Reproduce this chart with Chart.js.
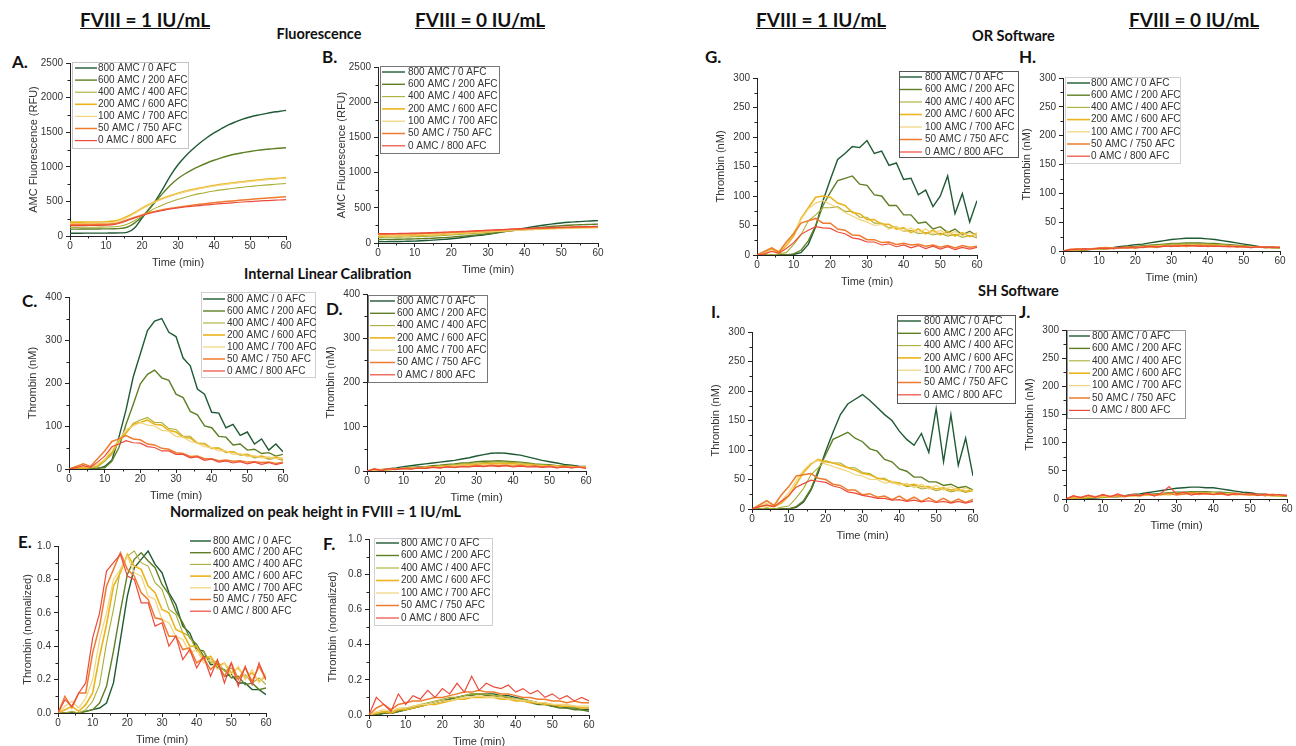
<!DOCTYPE html>
<html>
<head>
<meta charset="utf-8">
<script src="https://cdn.jsdelivr.net/npm/chart.js@4"></script>
<style>
  body { margin: 0; background: #fff; width: 1296px; height: 746px; position: relative; overflow: hidden; }
  canvas { position: absolute; }
  .txt { position: absolute; font-family: Lato, "Open Sans", sans-serif; font-weight: bold; color: #111; line-height: 1; white-space: nowrap; }
  .hdr { font-size: 19px; text-decoration: underline; width: 200px; text-align: center; }
  .sub { font-size: 14.5px; }
  .lab { font-size: 17px; }
</style>
</head>
<body>
<div class="txt hdr" style="left:45px;top:10px">FVIII = 1 IU/mL</div>
<div class="txt hdr" style="left:380px;top:10px">FVIII = 0 IU/mL</div>
<div class="txt hdr" style="left:721px;top:10px">FVIII = 1 IU/mL</div>
<div class="txt hdr" style="left:1094px;top:10px">FVIII = 0 IU/mL</div>
<div class="txt sub" style="left:219px;top:27px;width:200px;text-align:center">Fluorescence</div>
<div class="txt sub" style="left:972px;top:29px">OR Software</div>
<div class="txt sub" style="left:244px;top:267px">Internal Linear Calibration</div>
<div class="txt sub" style="left:978px;top:284px">SH Software</div>
<div class="txt sub" style="left:170px;top:505px">Normalized on peak height in FVIII = 1 IU/mL</div>
<div class="txt lab" style="left:12px;top:53px">A.</div>
<div class="txt lab" style="left:322px;top:48px">B.</div>
<div class="txt lab" style="left:22px;top:292px">C.</div>
<div class="txt lab" style="left:326px;top:300px">D.</div>
<div class="txt lab" style="left:18px;top:533px">E.</div>
<div class="txt lab" style="left:323px;top:535px">F.</div>
<div class="txt lab" style="left:705px;top:48px">G.</div>
<div class="txt lab" style="left:1019px;top:48px">H.</div>
<div class="txt lab" style="left:711px;top:303px">I.</div>
<div class="txt lab" style="left:1019px;top:303px">J.</div>
<script>
// time axis shared by every panel (min)
const timeMin = [0,2,4,6,8,10,12,14,16,18,20,22,24,26,28,30,32,34,36,38,40,42,44,46,48,50,52,54,56,58,60];
const seriesLabels = ['800 AMC / 0 AFC','600 AMC / 200 AFC','400 AMC / 400 AFC','200 AMC / 600 AFC','100 AMC / 700 AFC','50 AMC / 750 AFC','0 AMC / 800 AFC'];
const seriesColors = ['#1f5a35','#5f7f24','#a9ae34','#ebb41c','#f2d47a','#ee7b2e','#ec4b3c'];
const seriesWidths = [1.4,1.4,1.1,1.6,1.2,1.5,1.2];

// A. fluorescence, FVIII 1 IU/mL (RFU)
const A_800 = [40,40,41,41,42,42,43,45,55,120,260,390,530,700,880,1030,1150,1250,1340,1420,1490,1550,1605,1650,1690,1720,1745,1765,1785,1800,1815];
const A_600 = [100,100,101,101,102,103,104,110,130,190,280,390,510,630,740,830,900,960,1010,1055,1095,1130,1160,1185,1205,1222,1237,1249,1259,1268,1276];
const A_400 = [125,125,126,127,128,130,133,145,175,225,290,355,410,455,495,530,560,588,612,632,650,666,680,693,705,716,726,735,743,751,758];
const A_200 = [200,200,201,202,203,205,215,240,285,340,400,455,505,548,585,618,646,670,692,712,730,746,760,773,785,797,808,818,827,835,843];
const A_100 = [180,180,181,182,184,187,198,225,272,330,392,448,498,540,577,610,638,662,684,704,722,738,752,765,777,789,800,810,819,827,834];
const A_50 = [165,165,166,167,168,170,178,200,235,270,305,335,360,382,400,416,431,445,458,470,481,492,502,511,520,529,537,545,553,560,567];
const A_0 = [150,150,151,152,153,156,165,188,225,262,296,325,350,371,390,406,419,430,440,450,459,468,476,484,491,498,504,510,515,520,525];

// B. fluorescence, FVIII 0 IU/mL (RFU)
const B_800 = [20,20,21,22,24,27,32,38,45,52,60,72,85,98,110,122,140,158,176,194,210,228,245,260,273,285,294,301,307,313,318];
const B_600 = [50,51,52,54,56,59,62,66,71,77,84,92,101,111,121,132,145,158,171,184,196,208,219,229,238,246,252,257,261,265,268];
const B_400 = [80,81,82,84,86,89,92,96,101,107,113,120,127,135,143,151,159,167,175,182,189,196,202,208,213,218,222,226,229,232,235];
const B_200 = [100,101,102,104,106,109,112,116,120,125,130,136,142,148,154,160,166,172,178,184,189,194,199,203,207,211,214,217,220,222,224];
const B_100 = [110,111,112,114,116,118,121,124,128,132,137,142,147,152,157,162,167,172,177,182,186,190,194,198,201,204,207,210,212,214,216];
const B_50 = [125,126,127,129,131,133,136,139,143,147,151,155,160,165,170,175,180,185,190,195,199,203,207,211,214,217,220,223,225,227,229];
const B_0 = [132,133,134,136,138,140,143,146,150,154,158,162,167,172,177,182,187,192,197,202,206,210,214,218,221,224,227,230,232,234,236];

// C. internal linear calibration, FVIII 1 IU/mL (nM)
const C_800 = [0,2,0,3,1,6,20,74,138,214,268,322,344,350,318,308,258,240,186,174,132,130,96,104,78,86,58,70,44,58,40];
const C_600 = [0,0,2,0,2,3,18,50,104,150,198,220,230,212,206,174,166,134,126,100,96,76,74,56,58,44,46,36,38,30,34];
const C_400 = [0,2,0,3,5,18,34,64,84,106,114,120,108,108,94,92,76,76,60,60,48,49,38,40,32,33,26,29,22,25,20];
const C_200 = [0,3,2,4,7,22,38,66,84,104,108,114,104,102,90,86,74,72,60,58,48,48,40,40,33,34,28,30,25,28,23];
const C_100 = [0,4,8,3,12,22,48,68,92,100,108,102,100,90,88,76,74,64,60,52,50,42,42,34,36,29,31,26,28,24,26];
const C_50 = [0,6,12,6,24,42,64,70,78,70,68,58,56,48,46,38,36,29,30,24,24,19,21,18,19,16,17,15,16,13,16];
const C_0 = [0,3,8,4,16,30,52,58,66,61,60,52,50,42,42,34,34,26,28,20,23,16,19,14,17,12,16,11,15,10,14];

// D. internal linear calibration, FVIII 0 IU/mL (nM)
const D_800 = [0,1,3,5,7,10,12,14,16,18,20,22,24,27,30,34,37,40,41,40,38,36,32,28,24,21,18,15,13,11,10];
const D_600 = [0,1,2,3,5,6,8,9,10,12,13,15,16,18,19,21,22,22,23,22,21,20,18,16,15,14,12,12,11,10,9];
const D_400 = [0,1,2,3,4,5,7,8,9,10,12,13,14,16,17,18,19,20,20,20,19,18,17,15,14,13,12,11,10,10,9];
const D_200 = [0,2,3,3,4,5,6,7,8,9,10,11,12,13,14,15,16,16,17,16,16,15,14,13,12,12,11,10,10,9,9];
const D_100 = [0,3,2,3,4,5,6,7,8,8,9,10,11,12,13,13,14,14,15,14,14,13,13,12,11,11,10,10,9,9,8];
const D_50 = [0,5,2,5,4,6,5,7,6,9,7,10,8,11,10,13,11,13,12,13,11,13,10,12,9,11,8,10,8,9,7];
const D_0 = [0,4,1,5,3,6,4,7,6,8,7,9,8,10,9,11,10,12,10,12,9,11,9,10,8,10,7,9,7,9,6];

// E. normalized, FVIII 1 IU/mL
const E_800 = [0,0,0,0,0.01,0.02,0.03,0.06,0.18,0.44,0.70,0.87,0.92,0.97,0.89,0.84,0.72,0.65,0.52,0.48,0.38,0.37,0.29,0.29,0.22,0.23,0.18,0.18,0.14,0.14,0.11];
const E_600 = [0,0,0,0,0.01,0.02,0.06,0.16,0.37,0.61,0.83,0.92,0.96,0.91,0.87,0.77,0.71,0.61,0.54,0.45,0.41,0.34,0.32,0.27,0.26,0.21,0.22,0.17,0.18,0.14,0.15];
const E_400 = [0,0,0.01,0,0.02,0.07,0.17,0.42,0.62,0.86,0.94,0.97,0.90,0.88,0.78,0.74,0.62,0.59,0.48,0.46,0.37,0.37,0.30,0.31,0.25,0.27,0.21,0.23,0.18,0.21,0.17];
const E_200 = [0,0.02,0.04,0.01,0.05,0.12,0.34,0.53,0.76,0.84,0.95,0.88,0.86,0.76,0.72,0.62,0.60,0.50,0.48,0.40,0.40,0.32,0.34,0.28,0.30,0.24,0.27,0.21,0.24,0.19,0.22];
const E_100 = [0,0.04,0.07,0.03,0.09,0.20,0.44,0.60,0.80,0.86,0.94,0.84,0.82,0.70,0.68,0.56,0.54,0.46,0.44,0.36,0.38,0.30,0.32,0.26,0.30,0.22,0.28,0.20,0.26,0.18,0.24];
const E_50 = [0,0.10,0.03,0.12,0.12,0.36,0.52,0.76,0.86,0.96,0.86,0.82,0.72,0.68,0.57,0.56,0.46,0.46,0.38,0.39,0.30,0.33,0.26,0.30,0.22,0.30,0.20,0.27,0.19,0.28,0.20];
const E_0 = [0,0.08,0.04,0.12,0.18,0.45,0.60,0.85,0.90,0.95,0.82,0.80,0.66,0.66,0.52,0.54,0.40,0.46,0.32,0.38,0.27,0.34,0.22,0.32,0.18,0.30,0.16,0.28,0.17,0.30,0.20];

// F. normalized, FVIII 0 IU/mL
const F_800 = [0,0,0.01,0.01,0.02,0.03,0.04,0.05,0.06,0.07,0.08,0.09,0.10,0.11,0.12,0.12,0.12,0.12,0.11,0.11,0.10,0.09,0.08,0.07,0.06,0.05,0.05,0.04,0.04,0.03,0.03];
const F_600 = [0,0,0.01,0.01,0.02,0.03,0.04,0.05,0.06,0.07,0.08,0.09,0.10,0.11,0.11,0.12,0.11,0.11,0.10,0.10,0.09,0.08,0.07,0.06,0.06,0.05,0.04,0.04,0.03,0.03,0.02];
const F_400 = [0,0.01,0.02,0.02,0.03,0.04,0.05,0.06,0.07,0.08,0.09,0.10,0.10,0.11,0.12,0.12,0.12,0.11,0.11,0.10,0.09,0.09,0.08,0.07,0.07,0.06,0.05,0.05,0.04,0.04,0.04];
const F_200 = [0,0.01,0.02,0.01,0.03,0.03,0.04,0.05,0.06,0.06,0.07,0.08,0.09,0.09,0.10,0.10,0.10,0.10,0.09,0.09,0.08,0.08,0.07,0.07,0.06,0.06,0.05,0.05,0.05,0.04,0.04];
const F_100 = [0,0.02,0.03,0.02,0.04,0.04,0.05,0.06,0.06,0.07,0.08,0.08,0.09,0.10,0.10,0.11,0.10,0.10,0.10,0.09,0.09,0.08,0.08,0.07,0.07,0.06,0.06,0.06,0.05,0.05,0.05];
const F_50 = [0,0.04,0.06,0.03,0.06,0.07,0.08,0.08,0.09,0.10,0.10,0.11,0.12,0.13,0.13,0.14,0.13,0.13,0.12,0.12,0.11,0.10,0.10,0.09,0.09,0.08,0.08,0.07,0.08,0.07,0.07];
const F_0 = [0,0.10,0.06,0.02,0.12,0.06,0.11,0.09,0.14,0.10,0.15,0.12,0.18,0.13,0.22,0.14,0.18,0.16,0.15,0.17,0.13,0.15,0.12,0.14,0.10,0.12,0.09,0.11,0.08,0.10,0.08];

// G. OR software, FVIII 1 IU/mL (nM)
const G_800 = [0,0,0,0,0,1,4,18,48,92,128,162,172,184,182,194,172,176,152,156,128,130,102,110,82,100,134,70,104,56,92];
const G_600 = [0,0,0,0,0,2,8,24,50,84,106,126,130,134,120,118,102,100,84,84,68,68,54,56,44,48,38,44,34,40,32];
const G_400 = [0,2,0,2,4,18,34,58,68,80,80,82,74,74,64,64,54,54,46,48,40,42,36,38,34,37,32,35,30,33,29];
const G_200 = [0,4,10,3,16,32,62,80,98,100,98,88,84,72,70,60,60,52,52,44,46,38,44,36,42,34,40,32,38,31,37];
const G_100 = [0,4,12,6,18,38,60,78,88,92,86,80,72,66,60,56,50,52,44,48,40,46,38,44,36,42,34,40,33,38,32];
const G_50 = [0,6,12,5,22,36,54,58,62,54,54,44,42,34,33,26,26,21,22,18,20,17,18,15,17,13,16,12,16,13,15];
const G_0 = [0,2,6,3,11,21,35,42,48,46,45,39,36,29,27,22,22,17,19,14,17,12,16,11,15,10,14,9,13,10,13];

// H. OR software, FVIII 0 IU/mL (nM)
const H_800 = [0,0,1,2,3,4,5,6,8,9,11,12,14,16,18,20,21,22,22,22,21,20,18,16,14,12,10,8,7,6,5];
const H_600 = [0,1,1,2,3,3,4,5,6,7,8,9,10,11,12,13,13,14,14,14,13,13,12,11,10,9,8,7,6,6,5];
const H_400 = [0,1,2,2,3,3,4,5,5,6,7,8,9,10,11,12,12,12,12,12,12,11,11,10,9,8,8,7,6,6,5];
const H_200 = [0,2,2,3,3,4,4,5,5,6,6,7,8,8,9,9,10,10,10,10,10,10,9,9,8,8,7,7,6,6,6];
const H_100 = [0,2,3,3,4,4,5,5,5,6,6,7,7,8,8,9,9,9,10,9,9,9,9,8,8,7,7,7,6,6,6];
const H_50 = [0,3,4,2,4,5,6,4,6,7,5,7,8,6,9,8,10,8,9,10,8,9,8,9,7,8,6,8,7,6,7];
const H_0 = [0,2,3,4,3,5,4,5,6,5,7,6,8,7,8,9,8,10,9,8,9,8,8,7,8,7,6,7,6,7,6];

// I. SH software, FVIII 1 IU/mL (nM)
const I_800 = [0,0,0,0,0,0,3,12,32,62,98,130,160,178,186,194,184,172,160,150,132,118,108,128,96,170,80,160,74,120,56];
const I_600 = [0,0,0,0,0,0,4,14,34,66,92,118,124,130,120,114,102,98,84,80,68,64,54,54,46,46,40,42,36,38,32];
const I_400 = [0,0,2,0,3,5,19,35,58,70,82,78,78,70,70,62,60,52,52,44,44,38,40,34,36,31,34,29,32,28,31];
const I_200 = [0,4,6,4,10,22,42,62,76,84,80,78,74,70,66,60,58,52,50,46,44,40,42,38,38,34,36,32,34,30,32];
const I_100 = [0,6,10,6,14,28,48,66,78,82,76,72,68,64,58,56,50,50,44,46,40,44,36,42,34,40,32,38,30,36,30];
const I_50 = [0,7,14,6,24,38,56,58,60,52,50,42,40,32,32,24,26,20,22,16,22,14,20,13,19,12,18,11,17,11,16];
const I_0 = [0,4,7,4,13,23,37,43,49,47,45,39,36,29,27,23,21,18,18,15,16,13,15,12,14,11,13,10,13,10,13];

// J. SH software, FVIII 0 IU/mL (nM)
const J_800 = [0,0,1,1,2,3,4,5,6,8,9,11,13,15,17,19,20,21,21,20,20,18,16,14,12,11,9,8,7,6,5];
const J_600 = [0,1,1,2,2,3,4,4,5,6,7,8,9,10,11,12,12,13,13,13,12,12,11,10,9,8,8,7,6,6,5];
const J_400 = [0,1,2,2,3,3,4,5,5,6,7,8,8,9,10,11,11,12,12,12,11,11,10,10,9,8,8,7,7,6,6];
const J_200 = [0,2,2,3,3,4,4,5,5,6,6,7,7,8,8,9,9,10,10,10,10,9,9,8,8,8,7,7,6,6,6];
const J_100 = [0,4,2,5,3,6,3,7,4,6,5,8,6,9,7,10,8,9,10,8,11,8,9,7,9,7,8,6,9,6,7];
const J_50 = [0,5,3,6,4,7,5,6,4,8,6,9,7,8,10,7,9,11,8,10,8,9,7,10,8,7,9,6,8,7,6];
const J_0 = [0,6,2,7,3,8,4,9,5,7,6,10,5,11,22,9,12,7,10,9,8,11,7,9,8,10,6,9,7,8,6];

const TP = 8, RP = 9, XH = 34;
const axisFont = { family: '"Liberation Sans", Arial, sans-serif', size: 10 };
const titleFont = { family: '"Liberation Sans", Arial, sans-serif', size: 11 };
const inkColor = '#333';

// legend drawn inside the plot, like the original figure
const insideLegend = {
  id: 'insideLegend',
  afterDraw(chart, args, o) {
    const ctx = chart.ctx;
    ctx.save();
    if (o.box) {
      ctx.strokeStyle = o.box;
      ctx.lineWidth = 1;
      ctx.strokeRect(o.bx + 0.5, o.by + 0.5, o.bw, o.bh);
    }
    ctx.font = '10px "Liberation Sans", Arial, sans-serif';
    ctx.textBaseline = 'middle';
    ctx.fillStyle = inkColor;
    chart.data.datasets.forEach((ds, i) => {
      const y = o.row0 + i * o.rowH;
      ctx.strokeStyle = ds.borderColor;
      ctx.lineWidth = ds.borderWidth;
      ctx.beginPath();
      ctx.moveTo(o.lx, y);
      ctx.lineTo(o.lx + o.ll, y);
      ctx.stroke();
      ctx.fillText(ds.label, o.tx, y);
    });
    ctx.restore();
  }
};

// small ticks between the labelled ones
const minorTicks = {
  id: 'minorTicks',
  afterDraw(chart, args, o) {
    const { ctx, scales: { x, y } } = chart;
    ctx.save();
    ctx.strokeStyle = '#222';
    ctx.lineWidth = 1;
    ctx.beginPath();
    for (let k = 0; o.xStep * (2 * k + 1) < x.max; k++) {
      const px = Math.round(x.getPixelForValue(o.xStep * (2 * k + 1))) + 0.5;
      ctx.moveTo(px, y.bottom);
      ctx.lineTo(px, y.bottom + 2.5);
    }
    for (let k = 0; o.yStep * (2 * k + 1) < y.max; k++) {
      const py = Math.round(y.getPixelForValue(o.yStep * (2 * k + 1))) + 0.5;
      ctx.moveTo(x.left, py);
      ctx.lineTo(x.left - 2.5, py);
    }
    ctx.stroke();
    ctx.restore();
  }
};

function makePanel(p) {
  const yw = p.yw || 46, er = p.er || 0, et = p.et || 0;
  const left = p.x0 - yw, top = p.yTop - TP - et;
  const w = p.x1 - p.x0 + yw + RP + er, h = p.yBot - p.yTop + TP + et + XH;
  const cv = document.createElement('canvas');
  cv.width = w; cv.height = h;
  cv.style.cssText = `left:${left}px;top:${top}px;width:${w}px;height:${h}px`;
  document.body.appendChild(cv);
  const L = p.legend;
  const legendOpts = {
    box: L.box || null,
    bx: L.bx - left, by: L.by - top, bw: L.bw, bh: L.bh,
    row0: L.row0 - top, rowH: L.rowH,
    lx: L.lx - left, ll: L.ll, tx: L.tx - left
  };
  new Chart(cv, {
    type: 'line',
    data: {
      datasets: p.series.map((vals, i) => ({
        label: seriesLabels[i],
        data: vals.map((v, k) => ({ x: timeMin[k], y: v })),
        borderColor: seriesColors[i],
        borderWidth: seriesWidths[i],
        pointRadius: 0,
        tension: p.smooth ? 0.4 : 0,
        order: 6 - i
      }))
    },
    options: {
      responsive: false,
      animation: false,
      layout: { padding: { left: 0, top: TP + et, right: RP + er, bottom: 0 } },
      plugins: {
        legend: { display: false },
        tooltip: { enabled: false },
        insideLegend: legendOpts,
        minorTicks: { xStep: 5, yStep: p.yStep / 2 }
      },
      scales: {
        x: {
          type: 'linear', min: 0, max: 60,
          afterFit: s => { s.height = XH; },
          ticks: { stepSize: 10, font: axisFont, color: inkColor, padding: 0, maxRotation: 0, autoSkip: false },
          grid: { display: true, drawOnChartArea: false, drawTicks: true, tickLength: 4, color: '#222' },
          border: { display: true, color: '#222', width: 1 },
          title: { display: true, text: 'Time (min)', font: titleFont, color: inkColor, padding: 0 }
        },
        y: {
          min: 0, max: p.yMax,
          afterFit: s => { s.width = yw; },
          ticks: {
            stepSize: p.yStep, font: axisFont, color: inkColor, padding: 3, autoSkip: false,
            callback: v => p.yStep < 1 ? v.toFixed(1) : v
          },
          grid: { display: true, drawOnChartArea: false, drawTicks: true, tickLength: 4, color: '#222' },
          border: { display: true, color: '#222', width: 1 },
          title: { display: true, text: p.yTitle, font: titleFont, color: inkColor, padding: { top: 3, bottom: 0 } }
        }
      }
    },
    plugins: [insideLegend, minorTicks]
  });
}

makePanel({ x0: 70, x1: 286, yTop: 62, yBot: 236, yMax: 2500, yStep: 500, smooth: true,
  yTitle: 'AMC Fluorescence (RFU)', series: [A_800, A_600, A_400, A_200, A_100, A_50, A_0],
  legend: { box: '#c4c4c4', bx: 72, by: 62, bw: 116, bh: 86, row0: 68, rowH: 12.1, lx: 75, ll: 22, tx: 98 } });
makePanel({ x0: 378, x1: 598, yTop: 66, yBot: 243, yMax: 2500, yStep: 500, smooth: true,
  yTitle: 'AMC Fluorescence (RFU)', series: [B_800, B_600, B_400, B_200, B_100, B_50, B_0],
  legend: { box: '#777', bx: 380, by: 66, bw: 119, bh: 87, row0: 72, rowH: 12.3, lx: 382, ll: 23, tx: 408 } });
makePanel({ x0: 69, x1: 283, yTop: 296, yBot: 469, yMax: 400, yStep: 100, er: 36,
  yTitle: 'Thrombin (nM)', series: [C_800, C_600, C_400, C_200, C_100, C_50, C_0],
  legend: { box: '#cfcfcf', bx: 201, by: 292, bw: 114, bh: 85, row0: 299, rowH: 12, lx: 203, ll: 22, tx: 227 } });
makePanel({ x0: 367, x1: 586, yTop: 293, yBot: 471, yMax: 400, yStep: 100,
  yTitle: 'Thrombin (nM)', series: [D_800, D_600, D_400, D_200, D_100, D_50, D_0],
  legend: { box: '#777', bx: 368, by: 295, bw: 119, bh: 87, row0: 301, rowH: 12.3, lx: 370, ll: 25, tx: 397 } });
makePanel({ x0: 58, x1: 266, yTop: 546, yBot: 713, yMax: 1, yStep: 0.2, yw: 40, er: 34, et: 6,
  yTitle: 'Thrombin (normalized)', series: [E_800, E_600, E_400, E_200, E_100, E_50, E_0],
  legend: { bx: 0, by: 0, bw: 0, bh: 0, row0: 541, rowH: 11.7, lx: 190, ll: 21, tx: 213 } });
makePanel({ x0: 369, x1: 589, yTop: 538, yBot: 715, yMax: 1, yStep: 0.2,
  yTitle: 'Thrombin (normalized)', series: [F_800, F_600, F_400, F_200, F_100, F_50, F_0],
  legend: { box: '#cfcfcf', bx: 374, by: 538, bw: 118, bh: 87, row0: 543, rowH: 12.5, lx: 376, ll: 23, tx: 401 } });
makePanel({ x0: 757, x1: 977, yTop: 77, yBot: 255, yMax: 300, yStep: 50, er: 44,
  yTitle: 'Thrombin (nM)', series: [G_800, G_600, G_400, G_200, G_100, G_50, G_0],
  legend: { box: '#555', bx: 899, by: 71, bw: 119, bh: 86, row0: 77, rowH: 12.5, lx: 900, ll: 22, tx: 925 } });
makePanel({ x0: 1063, x1: 1280, yTop: 77, yBot: 251, yMax: 300, yStep: 50,
  yTitle: 'Thrombin (nM)', series: [H_800, H_600, H_400, H_200, H_100, H_50, H_0],
  legend: { box: '#d0d0d0', bx: 1065, by: 77, bw: 115, bh: 86, row0: 83, rowH: 12.2, lx: 1067, ll: 23, tx: 1091 } });
makePanel({ x0: 752, x1: 973, yTop: 332, yBot: 509, yMax: 300, yStep: 50, er: 45, et: 12,
  yTitle: 'Thrombin (nM)', series: [I_800, I_600, I_400, I_200, I_100, I_50, I_0],
  legend: { box: '#555', bx: 897, by: 315, bw: 118, bh: 88, row0: 321, rowH: 12.3, lx: 898, ll: 23, tx: 924 } });
makePanel({ x0: 1066, x1: 1287, yTop: 329, yBot: 499, yMax: 300, yStep: 50,
  yTitle: 'Thrombin (nM)', series: [J_800, J_600, J_400, J_200, J_100, J_50, J_0],
  legend: { box: '#999', bx: 1067, by: 330, bw: 118, bh: 88, row0: 336, rowH: 12.4, lx: 1069, ll: 21, tx: 1092 } });
</script>
</body>
</html>
